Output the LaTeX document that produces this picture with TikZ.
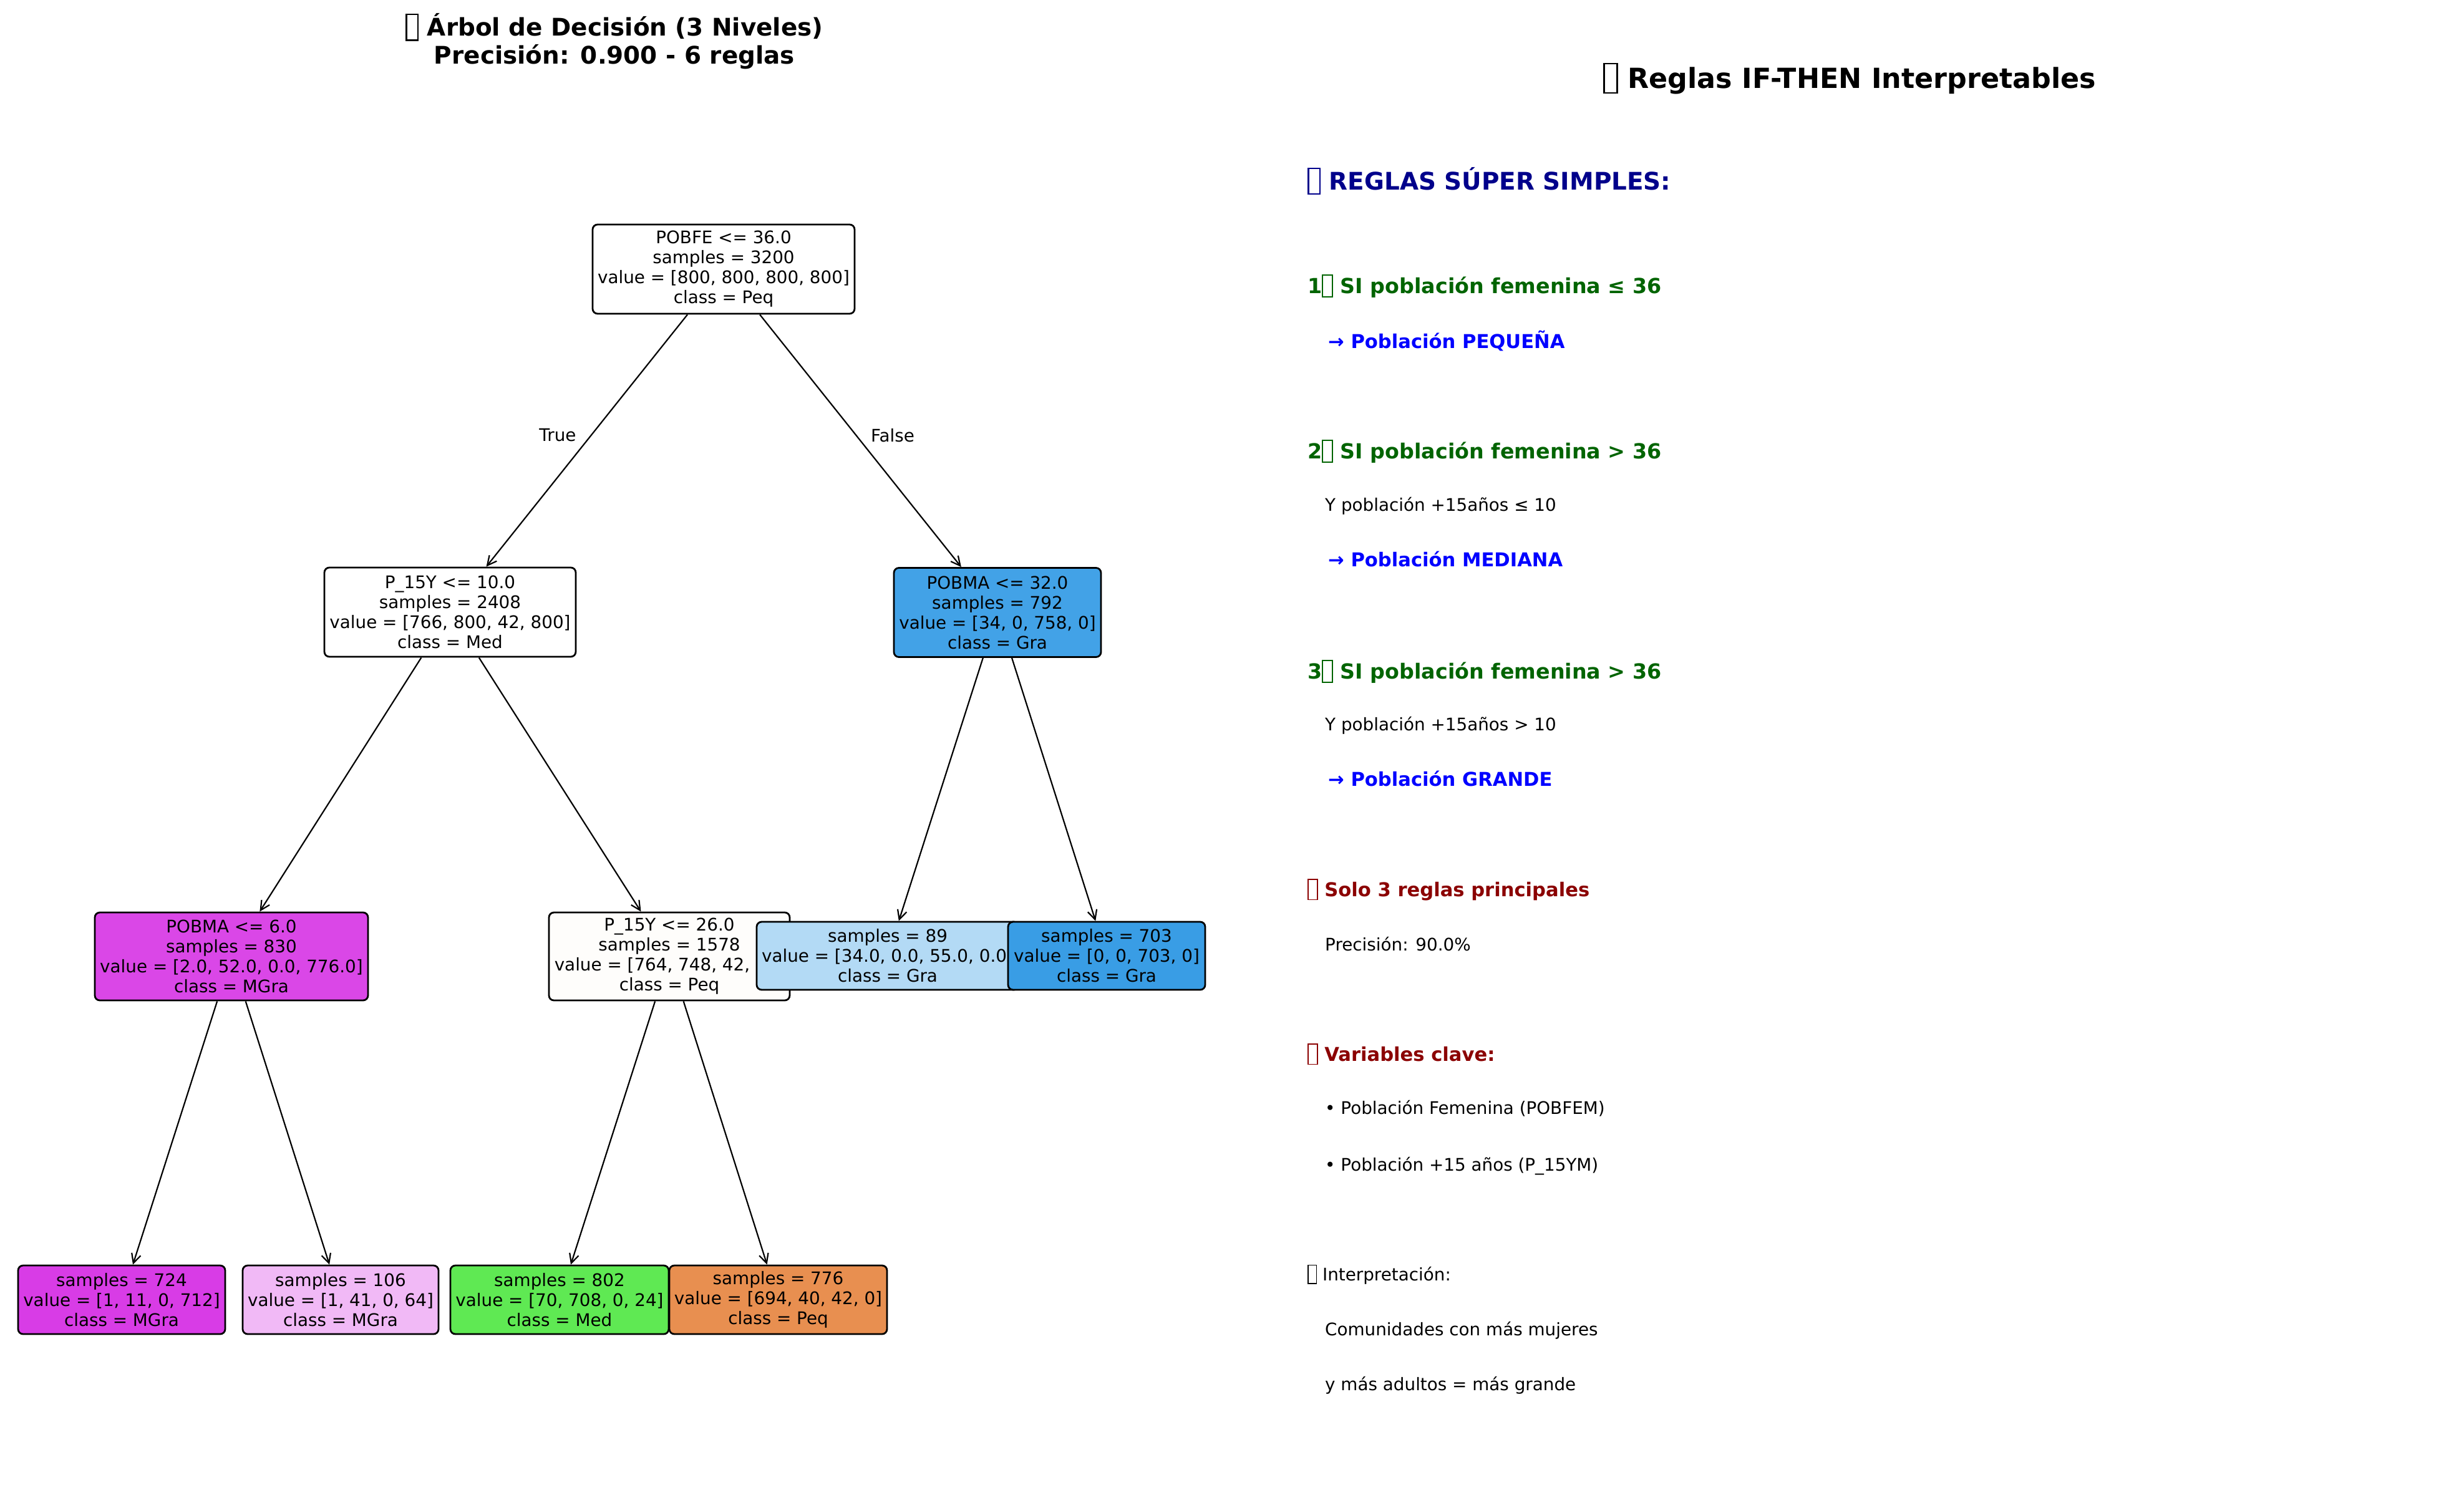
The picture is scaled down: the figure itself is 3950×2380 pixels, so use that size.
\documentclass[tikz,border=0pt]{standalone}
\usepackage{fontspec}
\setmainfont{DejaVu Sans}
\usetikzlibrary{arrows.meta}
\definecolor{cPeq}{HTML}{E88F50}
\definecolor{cMed}{HTML}{5FE953}
\definecolor{cGraA}{HTML}{42A2E7}
\definecolor{cGraB}{HTML}{B3DAF5}
\definecolor{cGraC}{HTML}{399DE5}
\definecolor{cMGA}{HTML}{DA47E7}
\definecolor{cMGB}{HTML}{D83CE6}
\definecolor{cMGC}{HTML}{F1B9F6}
\definecolor{cPeqL}{HTML}{FEFDFB}
\definecolor{navyT}{HTML}{00008B}
\definecolor{greenT}{HTML}{006400}
\definecolor{blueT}{HTML}{0000FF}
\definecolor{redT}{HTML}{8B0000}
\newcommand\tofu{\raisebox{-0.15em}{\setlength\fboxsep{0pt}\setlength\fboxrule{0.06em}\fbox{\rule{0pt}{1.0em}\hspace{0.42em}}}}
\begin{document}
\begin{tikzpicture}[x=1pt,y=-1pt,
  treebox/.style={draw=black, line width=2.8pt, rounded corners=8pt, inner xsep=0pt, inner ysep=0pt, align=center, font=\fontsize{27.8}{32}\selectfont},
  box4/.style={treebox, minimum height=143pt},
  box3/.style={treebox, minimum height=110pt},
  edge/.style={line width=2.2pt, -{Straight Barb[length=15pt,width=15pt,line width=2.2pt]}},
  lbl/.style={inner sep=0pt, font=\fontsize{27.8}{32}\selectfont},
  txt/.style={anchor=base west, inner sep=0pt},
  hA/.style={txt, text=greenT, font=\fontsize{33.3}{40}\selectfont\bfseries},
  hB/.style={txt, text=blueT, font=\fontsize{30.6}{36}\selectfont\bfseries},
  hC/.style={txt, text=redT, font=\fontsize{30.6}{36}\selectfont\bfseries},
  hN/.style={txt, text=black, font=\fontsize{27.8}{32}\selectfont}
]
\useasboundingbox[fill=white] (0,0) rectangle (3950,2380);

% titles
\node[align=center, inner sep=0pt, font=\fontsize{38.9}{45}\selectfont\bfseries] (t1) at (985,66) {\tofu{} Árbol de Decisión (3 Niveles)\\Precisión: 0.900 - 6 reglas};
\node[anchor=base, inner sep=0pt, font=\fontsize{44.4}{52}\selectfont\bfseries] (t2) at (2965,141) {\tofu{} Reglas IF-THEN Interpretables};

% tree
\node[box4, fill=white, minimum width=420pt] (root) at (1160,431.5) {POBFE <= 36.0\\samples = 3200\\value = [800, 800, 800, 800]\\class = Peq};
\node[box4, fill=white, minimum width=403pt] (n1) at (721.5,981.5) {P\_15Y <= 10.0\\samples = 2408\\value = [766, 800, 42, 800]\\class = Med};
\draw[edge] (root) -- (n1);
\node[box4, fill=cMGA, minimum width=438pt, minimum height=141pt] (n3) at (371,1533.5) {POBMA <= 6.0\\samples = 830\\value = [2.0, 52.0, 0.0, 776.0]\\class = MGra};
\draw[edge] (n1) -- (n3);
\node[box3, fill=cMGB, minimum width=332pt] (l1) at (195,2084) {samples = 724\\value = [1, 11, 0, 712]\\class = MGra};
\draw[edge] (n3) -- (l1);
\node[box3, fill=cMGC, minimum width=314pt] (l2) at (546,2084) {samples = 106\\value = [1, 41, 0, 64]\\class = MGra};
\draw[edge] (n3) -- (l2);
\node[box4, fill=cPeqL, minimum width=386pt, minimum height=141pt] (n4) at (1073,1533.5) {P\_15Y <= 26.0\\samples = 1578\\value = [764, 748, 42, 24]\\class = Peq};
\draw[edge] (n1) -- (n4);
\node[box3, fill=cMed, minimum width=350pt] (l3) at (897,2084) {samples = 802\\value = [70, 708, 0, 24]\\class = Med};
\draw[edge] (n4) -- (l3);
\node[box3, fill=cPeq, minimum width=349pt] (l4) at (1247.5,2084) {samples = 776\\value = [694, 40, 42, 0]\\class = Peq};
\draw[edge] (n4) -- (l4);
\node[box4, fill=cGraA, minimum width=332pt] (n2) at (1599,982) {POBMA <= 32.0\\samples = 792\\value = [34, 0, 758, 0]\\class = Gra};
\draw[edge] (root) -- (n2);
\node[box3, fill=cGraB, minimum width=420pt, minimum height=109pt] (n5) at (1423,1532.5) {samples = 89\\value = [34.0, 0.0, 55.0, 0.0]\\class = Gra};
\draw[edge] (n2) -- (n5);
\node[box3, fill=cGraC, minimum width=316pt, minimum height=109pt] (n6) at (1774,1532.5) {samples = 703\\value = [0, 0, 703, 0]\\class = Gra};
\draw[edge] (n2) -- (n6);

\node[lbl] (etrue) at (894,698) {True};
\node[lbl] (efalse) at (1431,698) {False};

% rules panel
\node[txt, text=navyT, font=\fontsize{38.9}{45}\selectfont\bfseries] (r0) at (2096,304) {\tofu{} REGLAS SÚPER SIMPLES:};
\node[hA] (r1) at (2096,470) {1\tofu{} SI población femenina ≤ 36};
\node[hB] (r1b) at (2129,558) {→ Población PEQUEÑA};
\node[hA] (r2) at (2096,735) {2\tofu{} SI población femenina > 36};
\node[hN] (r2a) at (2124,819) {Y población +15años ≤ 10};
\node[hB] (r2b) at (2129,908) {→ Población MEDIANA};
\node[hA] (r3) at (2096,1088) {3\tofu{} SI población femenina > 36};
\node[hN] (r3a) at (2124,1171) {Y población +15años > 10};
\node[hB] (r3b) at (2129,1260) {→ Población GRANDE};
\node[hC] (s1) at (2096,1437) {\tofu{} Solo 3 reglas principales};
\node[hN] (s2) at (2124,1524) {Precisión: 90.0\%};
\node[hC] (v1) at (2096,1701) {\tofu{} Variables clave:};
\node[hN] (v2) at (2124,1786) {• Población Femenina (POBFEM)};
\node[hN] (v3) at (2124,1877) {• Población +15 años (P\_15YM)};
\node[hN] (i1) at (2096,2053) {\tofu{} Interpretación:};
\node[hN] (i2) at (2124,2141) {Comunidades con más mujeres};
\node[hN] (i3) at (2124,2229) {y más adultos = más grande};
\end{tikzpicture}
\end{document}
